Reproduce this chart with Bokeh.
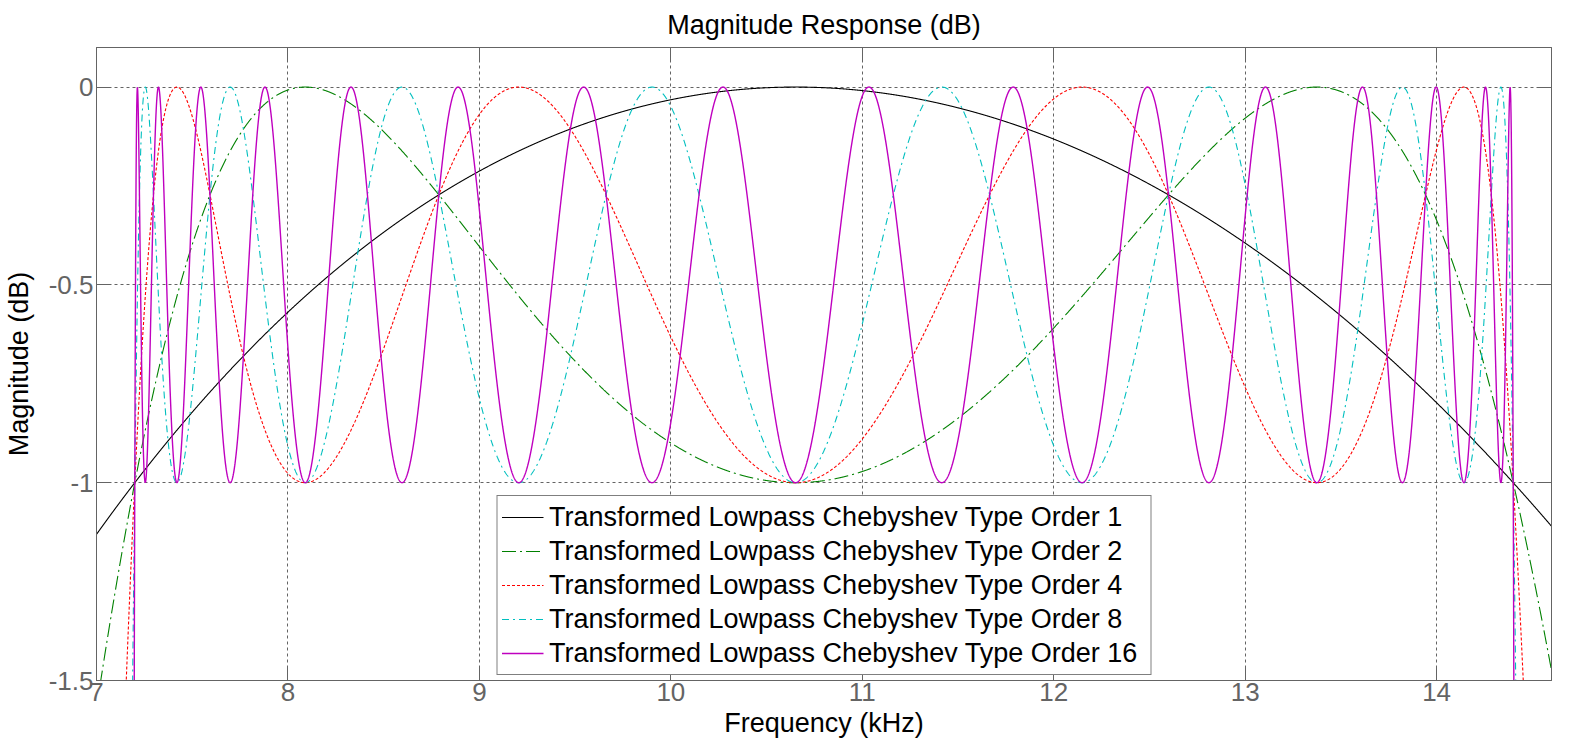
import numpy as np
from bokeh.plotting import figure
from bokeh.models import LinearAxis, FixedTicker, Legend, LegendItem, Range1d
from bokeh.embed import file_html
from bokeh.resources import INLINE

# ---- data (filter parameters) ----
fs_khz = 48.0                      # sampling rate implied by the centre frequency
band_edges_khz = [7.2, 14.4]       # passband edges (-1 dB points)
ripple_db = 1.0                    # passband ripple
orders = [1, 2, 4, 8, 16]
labels = ["Transformed Lowpass Chebyshev Type Order %d" % n for n in orders]
colors = ["#000000", "#008000", "#ff0000", "#00bfbf", "#bf00bf"]
dashes = ["solid", "14 4 2 4", "3 2", "7 4 2 4", "solid"]
widths = [1.1, 1.1, 1.1, 1.1, 1.4]
x_ticks = [7, 8, 9, 10, 11, 12, 13, 14]
y_ticks = [-1.5, -1.0, -0.5, 0.0]
y_tick_labels = {-1.5: "-1.5", -1.0: "-1", -0.5: "-0.5", 0.0: "0"}
x_range = [7.0, 14.6]
y_range = [-1.5, 0.1]

freq = np.linspace(x_range[0], x_range[1], 6001)

def response(n):
    w = 2 * np.pi * freq / fs_khz
    w1 = 2 * np.pi * band_edges_khz[0] / fs_khz
    w2 = 2 * np.pi * band_edges_khz[1] / fs_khz
    c0 = np.cos((w1 + w2) / 2) / np.cos((w2 - w1) / 2)
    om = (c0 - np.cos(w)) / np.sin(w)
    om2 = (c0 - np.cos(w2)) / np.sin(w2)
    u = om / om2
    t = np.where(np.abs(u) <= 1,
                 np.cos(n * np.arccos(np.clip(u, -1, 1))),
                 np.cosh(n * np.arccosh(np.maximum(np.abs(u), 1))))
    eps2 = 10 ** (ripple_db / 10) - 1
    db = -10 * np.log10(1 + eps2 * t ** 2)
    return np.maximum(db, -30)

FONT = "Liberation Sans"
GRAY = "#646464"

p = figure(width=1561, height=741, x_range=Range1d(*x_range), y_range=Range1d(*y_range),
           output_backend="svg", toolbar_location=None,
           title="Magnitude Response (dB)",
           x_axis_label="Frequency (kHz)", y_axis_label="Magnitude (dB)")
p.min_border_left = 93
p.min_border_right = 10
p.min_border_top = 39
p.min_border_bottom = 61
p.background_fill_color = "white"
p.border_fill_color = "white"
p.outline_line_color = GRAY

p.title.align = "center"
p.title.text_font = FONT
p.title.text_font_size = "27px"
p.title.text_font_style = "normal"
p.title.text_color = "black"
p.title.standoff = 15

xt = FixedTicker(ticks=x_ticks)
yt = FixedTicker(ticks=y_ticks)

for ax, tk in ((p.xaxis[0], xt), (p.yaxis[0], yt)):
    ax.ticker = tk
    ax.axis_line_color = GRAY
    ax.major_tick_line_color = GRAY
    ax.major_tick_in = 14
    ax.major_tick_out = 0
    ax.minor_tick_line_color = None
    ax.major_label_text_font = FONT
    ax.major_label_text_font_size = "26px"
    ax.major_label_text_color = GRAY
    ax.axis_label_text_font = FONT
    ax.axis_label_text_font_size = "27px"
    ax.axis_label_text_font_style = "normal"
    ax.axis_label_text_color = "black"
p.yaxis[0].major_label_overrides = y_tick_labels
p.yaxis[0].major_label_standoff = 3
p.yaxis[0].axis_label_standoff = 12
p.xaxis[0].major_label_standoff = 2
p.xaxis[0].axis_label_standoff = 4

# mirrored tick marks on the top and right edges (no labels)
for side, ticks in (("above", x_ticks), ("right", y_ticks)):
    ax = LinearAxis(ticker=FixedTicker(ticks=[], minor_ticks=ticks),
                    axis_line_color=GRAY, major_tick_line_color=None,
                    minor_tick_line_color=GRAY, minor_tick_in=14, minor_tick_out=0,
                    major_label_standoff=0, axis_label_standoff=0)
    p.add_layout(ax, side)

for g, tk in ((p.xgrid[0], xt), (p.ygrid[0], yt)):
    g.ticker = tk
    g.grid_line_color = GRAY
    g.grid_line_dash = "3 3"
    g.grid_line_width = 1

items = []
for n, lab, col, dsh, lw in zip(orders, labels, colors, dashes, widths):
    r = p.line(freq, response(n), line_color=col, line_dash=dsh, line_width=lw)
    items.append(LegendItem(label=lab, renderers=[r]))

leg = Legend(items=items, location="bottom_center")
leg.label_text_font = FONT
leg.label_text_font_size = "27px"
leg.label_text_color = "black"
leg.border_line_color = "black"
leg.border_line_width = 1
leg.glyph_width = 42
leg.glyph_height = 34
leg.label_height = 34
leg.label_width = 597
leg.label_standoff = 6
leg.spacing = 0
leg.padding = 4
leg.margin = 5
leg.background_fill_color = "white"
leg.background_fill_alpha = 1.0
p.add_layout(leg)

open("out.html", "w").write(file_html(p, INLINE))
